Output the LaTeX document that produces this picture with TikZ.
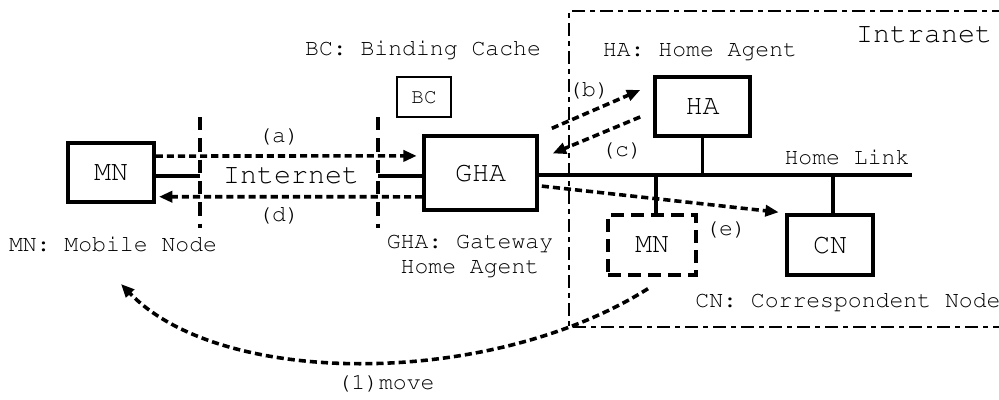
\documentclass[tikz,border=0pt]{standalone}
\usepackage[T1]{fontenc}
\usepackage{courier}
\renewcommand{\familydefault}{\ttdefault}
\usetikzlibrary{arrows.meta, positioning}

\begin{document}
\begin{tikzpicture}[x=0.45pt, y=-0.45pt,
        host/.style={draw, line width=1.5pt, inner sep=0pt, minimum width=38.7pt, minimum height=26.6pt, font=\fontsize{12.75}{14}\selectfont},
        guest/.style={host, dash pattern=on 6pt off 3pt},
        cachebox/.style={draw, line width=0.7pt, inner sep=0pt, minimum width=24.3pt, minimum height=18pt, font=\fontsize{9.4}{11}\selectfont},
        msg/.style={line width=1.6pt, dash pattern=on 3.2pt off 1.8pt, -{Triangle[length=6pt,width=5pt]}},
        wire/.style={line width=1.5pt},
        border/.style={line width=1.5pt, dash pattern=on 6pt off 3.6pt},
        zone/.style={line width=0.6pt, dash pattern=on 6pt off 2.2pt on 2.2pt off 2.2pt},
        lbl/.style={font=\fontsize{10.4}{11.25}\selectfont, inner sep=0pt, align=center},
        big/.style={font=\fontsize{12.75}{14}\selectfont, inner sep=0pt}
        ]
        \useasboundingbox (0,0) rectangle (999,399);

        % intranet area
        \draw[zone] (1005,11) -- (569,11) -- (569,327) -- (1005,327);
        \node[big] (intranet) at (924,35) {Intranet};

        % hosts
        \node[host] (MN) at (111,172.5) {MN};
        \node[host, minimum width=50.9pt, minimum height=33.3pt] (GHA) at (480.5,173) {GHA};
        \node[host, minimum width=42.8pt] (HA) at (702.5,106.5) {HA};
        \node[host, minimum height=27pt] (CN) at (830,245) {CN};
        \node[guest, minimum width=39.6pt, minimum height=27pt] (MNv) at (652,245) {MN};
        \node[cachebox] (BC) at (424,97) {BC};

        % internet cloud borders
        \coordinate (inL) at (200,176);
        \coordinate (inR) at (378,176);
        \draw[border] (200,117) -- (200,228);
        \draw[border] (378,117) -- (378,228);
        \node[big] (internet) at (291,176) {Internet};
        \draw[wire] (MN.east |- inL) -- (inL);
        \draw[wire] (inR) -- (GHA.west |- inR);

        % home link
        \coordinate (link) at (912,175);
        \draw[wire] (GHA.east |- link) -- (link);
        \draw[wire] (HA.south) -- (HA.south |- link);
        \draw[wire] ([xshift=1.3pt]CN.north) -- ([xshift=1.3pt]CN.north |- link);
        \draw[wire] ([xshift=1.8pt]MNv.north) -- ([xshift=1.8pt]MNv.north |- link);
        \node[lbl] (homelink) at (847,157) {Home Link};

        % messages
        \draw[msg, shorten >=2.5pt] ([yshift=7.4pt]MN.east) -- ([yshift=7.7pt]GHA.west);
        \draw[msg, shorten >=1.5pt] ([yshift=-10.7pt]GHA.west) -- ([yshift=-10.9pt]MN.east);
        \draw[msg] ([xshift=5.9pt, yshift=2.7pt]GHA.north east) -- ([xshift=-5.9pt, yshift=7.4pt]HA.west);
        \draw[msg] ([xshift=-5.9pt, yshift=-4.7pt]HA.west) -- ([xshift=6.3pt, yshift=-8.6pt]GHA.north east);
        \draw[msg] ([xshift=1.4pt, yshift=-5.9pt]GHA.east) -- ([xshift=-3pt, yshift=0.5pt]CN.north west);
        \draw[msg] ([xshift=-1.8pt, yshift=-5.4pt]MNv.south) .. controls (490,388) and (221,388) .. (121,284);

        \node[lbl] (a) at (279,136) {(a)};
        \node[lbl] (d) at (279,215) {(d)};
        \node[lbl] (b) at (589,90) {(b)};
        \node[lbl] (c) at (622,150) {(c)};
        \node[lbl] (e) at (726,229) {(e)};
        \node[lbl] (move) at (386,383) {(1)move};

        % legends
        \node[lbl] (MNtxt) at (113,244) {MN: Mobile Node};
        \node[lbl] (BCtxt) at (423,50) {BC: Binding Cache};
        \node[lbl] (HAtxt) at (700,52) {HA: Home Agent};
        \node[lbl] (GHAtxt) at (470,256) {GHA: Gateway\\Home Agent};
        \node[lbl, anchor=west] (CNtxt) at (695,302) {CN: Correspondent Node};
\end{tikzpicture}
\end{document}
